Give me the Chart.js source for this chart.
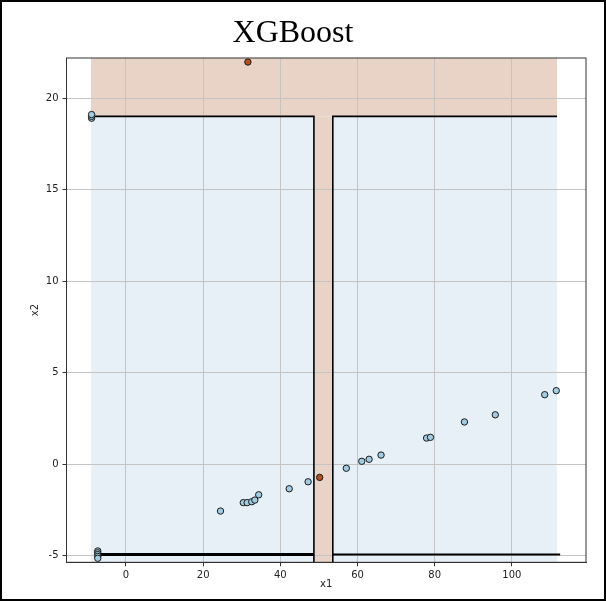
<!DOCTYPE html>
<html lang="en">
<head>
    <meta charset="UTF-8">
    <title>XGBoost</title>
    <script src="https://cdn.jsdelivr.net/npm/chart.js"></script>
    <style>
        body {
            margin: 0;
            background: #fff;
        }
        #chart {
            display: block;
        }
    </style>
</head>
<body>
    <canvas id="chart" width="606" height="601"></canvas>

    <script>
        // class 0 samples (light blue)
        const blueX = [-8.9, -8.9, -8.9, -7.3, -7.3, -7.3, -7.3, -7.3,
            24.5, 30.4, 31.4, 32.6, 33.4, 34.4, 42.3, 47.2,
            57.1, 61.1, 63.0, 66.1, 77.9, 78.9, 87.7, 95.7, 108.5, 111.5];
        const blueY = [18.9, 19.0, 19.1, -4.75, -4.85, -4.95, -5.05, -5.15,
            -2.57, -2.11, -2.11, -2.06, -1.97, -1.68, -1.35, -0.97,
            -0.23, 0.15, 0.26, 0.49, 1.42, 1.46, 2.30, 2.69, 3.79, 4.01];

        // class 1 samples (orange)
        const orangeX = [31.6, 50.2];
        const orangeY = [21.97, -0.73];

        // decision boundary of the model
        const edgeX = [-9.07, 48.7, 53.6, 111.7];   // shaded left, strip left, strip right, shaded right
        const edgeY = [-4.95, 19.0];                // bottom contour, top split
        const bottomStart = -7.3;
        const bottomEnd = 112.5;

        const xRange = [-15.4, 119.2];
        const yRange = [-5.37, 22.19];
        const xTicks = [0, 20, 40, 60, 80, 100];
        const yTicks = [-5, 0, 5, 10, 15, 20];

        const tickFont = { family: 'DejaVu Sans', size: 10 };

        const regionPlugin = {
            id: 'regions',
            beforeDraw(chart) {
                const { ctx, scales: { x, y } } = chart;
                const rect = (x0, x1, y0, y1, color) => {
                    const px0 = x.getPixelForValue(x0), px1 = x.getPixelForValue(x1);
                    const py0 = y.getPixelForValue(y0), py1 = y.getPixelForValue(y1);
                    ctx.fillStyle = color;
                    ctx.fillRect(px0, py1, px1 - px0, py0 - py1);
                };
                ctx.save();
                rect(edgeX[0], edgeX[3], yRange[0], edgeY[1], '#e8f0f7');
                rect(edgeX[0], edgeX[3], edgeY[1], yRange[1], '#e9d3c6');
                rect(edgeX[1], edgeX[2], yRange[0], edgeY[1], '#e9d3c6');
                ctx.restore();
            },
            afterDraw(chart) {
                const { ctx, chartArea: a, width, height } = chart;
                ctx.save();
                ctx.strokeStyle = '#333';
                ctx.lineWidth = 1;
                ctx.strokeRect(a.left, a.top, a.right - a.left, a.bottom - a.top);
                // figure frame
                ctx.strokeStyle = '#000';
                ctx.lineWidth = 2;
                ctx.strokeRect(1, 1, width - 2, height - 2);
                ctx.restore();
            }
        };

        const contour = (xs, ys, w) => ({
            type: 'line',
            data: xs.map((v, i) => ({ x: v, y: ys[i] })),
            borderColor: '#000',
            borderWidth: w,
            pointRadius: 0,
            fill: false,
            tension: 0
        });

        new Chart(document.getElementById('chart'), {
            type: 'scatter',
            data: {
                datasets: [
                    {
                        data: orangeX.map((v, i) => ({ x: v, y: orangeY[i] })),
                        backgroundColor: '#b8501c',
                        borderColor: '#1a1a1a',
                        borderWidth: 1,
                        pointRadius: 3.2
                    },
                    {
                        data: blueX.map((v, i) => ({ x: v, y: blueY[i] })),
                        backgroundColor: '#9fcbe3',
                        borderColor: '#1a1a1a',
                        borderWidth: 1,
                        pointRadius: 3.2
                    },
                    contour([edgeX[0], edgeX[1], edgeX[1]], [edgeY[1], edgeY[1], yRange[0]], 1.6),
                    contour([edgeX[3], edgeX[2], edgeX[2]], [edgeY[1], edgeY[1], yRange[0]], 1.6),
                    contour([bottomStart, edgeX[1]], [edgeY[0], edgeY[0]], 3),
                    contour([edgeX[2], bottomEnd], [edgeY[0], edgeY[0]], 2)
                ]
            },
            options: {
                responsive: false,
                animation: false,
                layout: { padding: { left: 0, right: 20, top: 0, bottom: 0 } },
                plugins: {
                    legend: { display: false },
                    tooltip: { enabled: false },
                    title: {
                        display: true,
                        text: 'XGBoost',
                        color: '#000',
                        font: { family: 'Liberation Serif', size: 32, weight: 'normal', lineHeight: 1.2 },
                        padding: { top: 14, bottom: 5.6 }
                    }
                },
                scales: {
                    x: {
                        type: 'linear',
                        min: xRange[0],
                        max: xRange[1],
                        afterBuildTicks: s => { s.ticks = xTicks.map(v => ({ value: v })); },
                        afterFit: s => { s.height = 38.7; },
                        ticks: { font: tickFont, color: '#222', padding: 3 },
                        grid: { color: '#c4c4c4', tickColor: '#333', tickLength: 4 },
                        border: { display: true, color: '#333' },
                        title: { display: true, text: 'x1', font: tickFont, color: '#222', padding: { top: 0, bottom: 11 } }
                    },
                    y: {
                        type: 'linear',
                        min: yRange[0],
                        max: yRange[1],
                        afterBuildTicks: s => { s.ticks = yTicks.map(v => ({ value: v })); },
                        afterFit: s => { s.width = 66.5; },
                        ticks: { font: tickFont, color: '#222', padding: 4 },
                        grid: { color: '#c4c4c4', tickColor: '#333', tickLength: 4 },
                        border: { display: true, color: '#333' },
                        title: { display: true, text: 'x2', font: tickFont, color: '#222', padding: { top: 29, bottom: 0 } }
                    }
                }
            },
            plugins: [regionPlugin]
        });
    </script>
</body>
</html>
